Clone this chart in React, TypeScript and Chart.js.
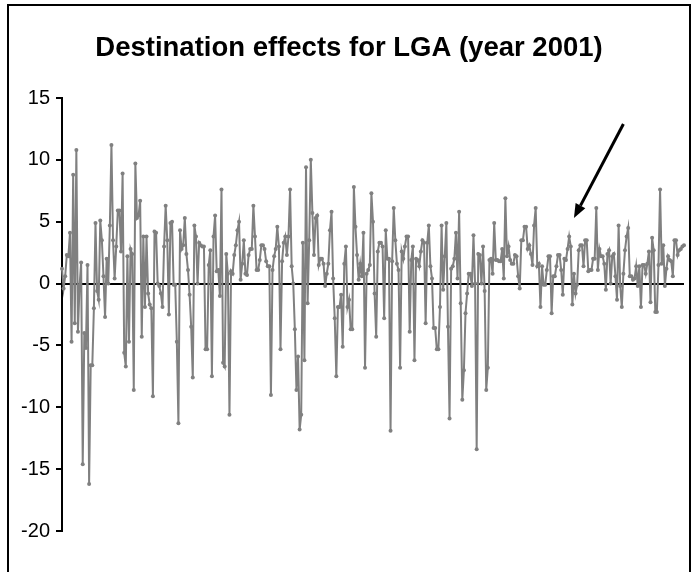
import React, { useEffect, useRef } from "react";
import { Chart, registerables } from "chart.js";

Chart.register(...registerables);

const TITLE = "Destination effects for LGA (year 2001)";

// Daily destination effects, in order through the year
const EFFECTS: number[] = [
  // Jan – Feb
  1.2, -0.4, 0.6, 2.3, 2.2, 4.1, -4.7, 8.8, -3.2, 10.8, -3.9, -0.2, 1.7, -14.6, -4.0, -5.2, 1.5, -16.2, -6.6, -6.6,
  -2.0, 4.9, -0.6, -1.3, 5.1, 3.5, 0.6, -2.7, 2.0, 0.0, 4.7, 11.2, 3.5, 0.4, 3.0, 5.9, 5.9, 2.6, 8.9, -5.6, -6.7,
  2.2, -4.7, 2.8, 2.4, -8.6, 9.7, 5.3, 5.5, 6.7, -4.3, 3.8, -1.9, 3.8, -0.8, -1.7, -2.0, -9.1, 4.2, 4.1, 0.0,
  -0.2, -0.8, -1.9, 3.0, 6.3, 3.5, -2.5, 4.9, 5.0, -0.1, -0.1, -4.7, -11.3, 4.3, 2.8, 3.1, 5.3, 2.4, 1.1, -0.9,
  -3.5, -7.6, 4.7, 3.8,
  // Mar – Apr
  0.0, 3.3, 3.1, 3.0, 3.0, -5.3, -5.3, 1.5, 2.7, -7.5, 3.8, 5.5, 1.0, 1.1, -1.0, 7.6, -6.4, -6.7, 2.4, 0.8,
  -10.6, 1.0, 0.8, 2.3, 3.1, 4.3, 5.0, 0.3, 1.6, 3.5, 0.8, 0.7, 2.3, 2.8, 2.8, 6.3, 3.8, 1.1, 1.1, 1.9,
  3.1, 3.1, 2.8, 1.8, 1.4, 1.4, -9.0, 1.1, 2.2,
  // May – Jun
  2.8, 4.6, 3.0, -5.3, 1.8, 3.3, 3.8, 2.3, 3.8, 7.6, 1.4, 0.0, -3.7, -8.6, -5.9, -11.8, -10.6, 3.3, -6.2, 9.4,
  -1.6, 3.5, 10.0, 5.7, 2.3, 5.3, 5.5, 1.5, 2.0, 2.0, 1.6, -0.2, 0.8, 1.6, 4.3, 5.8, 0.4, -2.8, -7.5, -1.9,
  -1.9, -0.9, -5.1, 1.6, 3.0, -1.9, -1.3, -3.7, -3.7,
  // Jul – Aug
  7.8, 4.6, 2.3, 0.3, 1.6, 0.6, 4.1, -6.8, 0.8, 1.1, 1.5, 7.3, 5.0, -0.8, -4.3, 2.6, 3.3, 3.3, 3.0, -2.8,
  4.3, 2.0, 2.0, -11.9, 1.8, 6.1, 3.5, 1.6, 1.1, -6.8, 2.6, 2.0, 3.0, 3.8, 3.8, -3.9, 1.9, 3.0, -6.2, 2.0,
  1.9, 1.4, 2.6, 3.5, 3.3,
  // Sep – Oct
  -3.2, 3.3, 4.7, 1.4, 0.4, -3.6, -3.6, -5.3, -5.3, -1.9, 4.7, -0.5, 2.2, 4.9, -3.5, -10.9, 1.2, 1.4, 2.0, 4.1,
  0.4, 5.8, -1.6, -9.4, -7.0, -2.4, -0.8, 0.8, 0.8, -0.2, 3.9, 0.0, -13.4, 2.4, 2.3, 0.0, 3.0, -0.6, -8.6, -6.8,
  1.9, 2.0, 0.8, 4.9, 1.9, 1.9, 1.8, 1.8,
  // Nov
  2.8, 0.4, 6.9, 2.2, 3.0, 1.9, 1.6, 1.6, 2.3, 2.2, 0.6, -0.4, 3.5, 3.5, 4.6, 4.6, 2.8, 3.1, 2.4, 1.5,
  4.7, 6.1, 1.4, 1.6, -1.9, 1.4, -0.1, -0.1, 1.1, 2.2, 2.2, -2.4, 0.6, 0.6, 1.4, 2.3, 2.3, 1.1, -0.9, 2.0,
  1.9, 2.8, 3.8, 3.0, -1.7, 0.8, -0.8, -0.1, 2.7,
  // Dec
  3.1, 3.1, 1.4, 3.5, 3.5, 1.0, 1.1, 1.1, 2.0, 2.0, 6.1, 1.1, 2.8, 2.2, 2.2, 1.6, -0.5, 2.4, 2.7, 0.0,
  2.2, 2.4, 0.6, -1.3, 4.7, -0.2, -1.9, 0.8, 2.7, 3.8, 4.5, 0.6, 0.6, 0.3, 0.4, 1.4, -0.2, 1.4, -1.9, 1.5,
  1.5, 0.8, 1.6, 2.6, -1.5, 3.7, 2.7, -2.3, -2.3, 1.5, 7.6, 1.6, 3.1, -0.2, 1.2, 2.2, 1.9, 1.8, 0.6, 3.5,
  3.5, 2.3, 2.7, 2.8, 3.0, 3.1,
];

const DAY_LABELS: string[] = EFFECTS.map((_, i) => String(i + 1));

const Y_MIN = -20;
const Y_MAX = 15;
const Y_STEP = 5;

// Annotation arrow in data coordinates (index along the series, effect value)
const ARROW_TAIL = { x: 352, y: 12.9 };
const ARROW_TIP = { x: 321, y: 5.3 };

const FONT = "'Liberation Sans', Arial, sans-serif";
const LINE_GREY = "#808080";

// Outer frame, plus the heading centred inside it
const framePlugin = {
  id: "frame",
  afterDraw(chart: any) {
    const { ctx, width, height } = chart;
    const left = 8;
    const right = width - 5;
    ctx.save();
    ctx.strokeStyle = "#000";
    ctx.lineWidth = 2;
    ctx.beginPath();
    ctx.moveTo(left, height + 2);
    ctx.lineTo(left, 5);
    ctx.lineTo(right, 5);
    ctx.lineTo(right, height + 2);
    ctx.stroke();

    ctx.fillStyle = "#000";
    ctx.font = `bold 27.5px ${FONT}`;
    ctx.textAlign = "center";
    ctx.textBaseline = "middle";
    ctx.fillText(TITLE, (left + right) / 2, 48);
    ctx.restore();
  },
};

const arrowPlugin = {
  id: "arrow",
  afterDatasetsDraw(chart: any) {
    const { ctx, scales } = chart;
    const x0 = scales.x.getPixelForValue(ARROW_TAIL.x);
    const y0 = scales.y.getPixelForValue(ARROW_TAIL.y);
    const x1 = scales.x.getPixelForValue(ARROW_TIP.x);
    const y1 = scales.y.getPixelForValue(ARROW_TIP.y);
    const ang = Math.atan2(y1 - y0, x1 - x0);
    const headLen = 14;
    const headHalf = 5.5;
    const bx = x1 - headLen * Math.cos(ang);
    const by = y1 - headLen * Math.sin(ang);
    ctx.save();
    ctx.strokeStyle = "#000";
    ctx.fillStyle = "#000";
    ctx.lineWidth = 3;
    ctx.beginPath();
    ctx.moveTo(x0, y0);
    ctx.lineTo(bx, by);
    ctx.stroke();
    ctx.beginPath();
    ctx.moveTo(x1, y1);
    ctx.lineTo(bx + headHalf * Math.sin(ang), by - headHalf * Math.cos(ang));
    ctx.lineTo(bx - headHalf * Math.sin(ang), by + headHalf * Math.cos(ang));
    ctx.closePath();
    ctx.fill();
    ctx.restore();
  },
};

export default function App() {
  const canvasRef = useRef<HTMLCanvasElement | null>(null);

  useEffect(() => {
    if (!canvasRef.current) return;
    const chart = new Chart(canvasRef.current, {
      type: "line",
      data: {
        labels: DAY_LABELS,
        datasets: [
          {
            data: EFFECTS,
            borderColor: LINE_GREY,
            borderWidth: 2,
            pointRadius: 2,
            pointBackgroundColor: LINE_GREY,
            pointBorderWidth: 0,
            tension: 0,
          },
        ],
      },
      options: {
        responsive: false,
        animation: false,
        layout: { padding: { left: 0, right: 11, top: 98, bottom: 41 } },
        plugins: {
          legend: { display: false },
          tooltip: { enabled: false },
          title: { display: false },
        },
        scales: {
          x: {
            display: false,
            offset: false,
          },
          y: {
            min: Y_MIN,
            max: Y_MAX,
            afterFit(scale: any) {
              scale.width = 62;
            },
            border: { display: true, color: "#000", width: 2 },
            grid: {
              color: (c: any) => (c.tick && c.tick.value === 0 ? "#000" : "rgba(0,0,0,0)"),
              lineWidth: 2,
              tickColor: "#000",
              tickLength: 6,
              drawOnChartArea: true,
            },
            ticks: {
              stepSize: Y_STEP,
              color: "#000",
              padding: 6,
              font: { family: FONT, size: 20 },
            },
          },
        },
      },
      plugins: [framePlugin, arrowPlugin],
    });
    return () => chart.destroy();
  }, []);

  return (
    <div style={{ position: "absolute", left: 0, top: 0, width: 695, height: 572, background: "#fff" }}>
      <canvas ref={canvasRef} width={695} height={572} style={{ display: "block" }} />
    </div>
  );
}
